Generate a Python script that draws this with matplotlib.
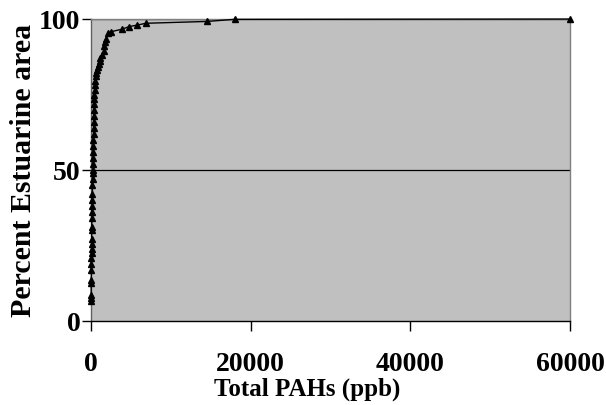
import matplotlib
matplotlib.use("Agg")
import matplotlib.pyplot as plt

# cumulative distribution: total PAHs vs percent of estuarine area
ppb = [15, 25, 35, 40, 50, 60, 70, 75, 80, 85,
       90, 95, 100, 110, 120, 130, 150, 170, 190, 200,
       210, 220, 230, 250, 270, 290, 300, 320, 340, 350,
       360, 370, 380, 400, 420, 440, 460, 500, 550, 620,
       700, 800, 900, 1000, 1100, 1200, 1450, 1600, 1700, 1800,
       1900, 2150, 2500, 3850, 4800, 5800, 6900, 14500, 18000, 60000]
pct = [6.5, 7.5, 8.5, 12.5, 13.5, 17, 19, 21, 22.5, 24,
       25.5, 27, 30, 31, 34, 36, 38, 40, 42, 45,
       47, 49, 50, 52, 54, 56, 58, 60, 62, 64,
       66, 68, 70, 72, 73.5, 75, 76.5, 78, 79.5, 81,
       82, 83, 84, 85, 86, 87, 88, 89.5, 91, 92.5,
       93.5, 95.3, 95.8, 96.6, 97.5, 98, 98.6, 99.2, 99.9, 100]

xticks = [0, 20000, 40000, 60000]
yticks = [0, 50, 100]

plt.rcParams['font.family'] = ['Liberation Serif', 'DejaVu Serif']
plt.rcParams['font.weight'] = 'bold'

fig = plt.figure(figsize=(6.06, 4.05), dpi=100)
ax = fig.add_axes([0.150, 0.2074, 0.7906, 0.7456])
ax.set_facecolor('#c0c0c0')

for y in yticks[1:]:
    ax.axhline(y, color='black', lw=0.9, zorder=1)

ax.plot(ppb, pct, color='black', lw=1, marker='^', ms=4.5,
        markeredgecolor='black', markerfacecolor='black', zorder=3,
        clip_on=False)

ax.set_xlim(0, 60000)
ax.set_ylim(0, 100)
ax.set_xticks(xticks)
ax.set_yticks(yticks)
ax.set_xticklabels([str(v) for v in xticks])
ax.set_yticklabels([str(v) for v in yticks])

ax.tick_params(axis='x', direction='out', length=7, width=1, pad=15,
               labelsize=20, colors='black')
ax.tick_params(axis='y', direction='out', length=6.5, width=1, pad=1,
               labelsize=20, colors='black')
for lab in ax.get_xticklabels() + ax.get_yticklabels():
    lab.set_fontweight('bold')

ax.spines['left'].set_color('#606060')
ax.spines['bottom'].set_color('black')
ax.spines['right'].set_color('#808080')
ax.spines['top'].set_color('#808080')
for s in ax.spines.values():
    s.set_linewidth(1)

ax.set_xlabel('Total PAHs (ppb)', fontsize=18, fontweight='bold')
ax.xaxis.set_label_coords(0.451, -0.186)
ax.set_ylabel('Percent Estuarine area', fontsize=21.5, fontweight='bold')
ax.yaxis.set_label_coords(-0.112, 0.5)

fig.savefig('out.png', dpi=100)
